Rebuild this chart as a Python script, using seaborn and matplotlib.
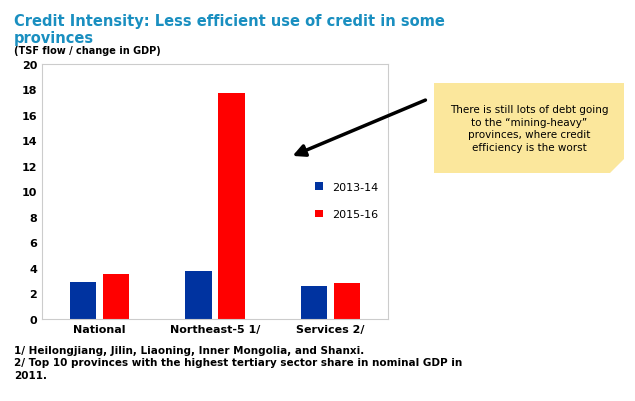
import matplotlib
matplotlib.use("Agg")
import matplotlib.pyplot as plt
import seaborn as sns
import pandas as pd
from matplotlib.patches import Polygon

categories = ["National", "Northeast-5 1/", "Services 2/"]
v_2013_14 = [2.9, 3.8, 2.6]
v_2015_16 = [3.5, 17.7, 2.8]
series = ["2013-14", "2015-16"]
yticks = list(range(0, 21, 2))

df = pd.DataFrame({
    "cat": categories * 2,
    "val": v_2013_14 + v_2015_16,
    "ser": [series[0]] * 3 + [series[1]] * 3,
})

fig = plt.figure(figsize=(6.35, 4.02), dpi=100)
fig.patch.set_facecolor("white")
ax = fig.add_axes([42/635, 1-320/402, 346/635, 255/402])
sns.barplot(data=df, x="cat", y="val", hue="ser", palette=["#0033a0", "#ff0000"],
            width=0.57, gap=0.2, ax=ax, saturation=1)
ax.set_xlim(-0.5, 2.5)
ax.set_ylim(0, 20)
ax.set_yticks(yticks)
ax.set_xlabel(""); ax.set_ylabel("")
ax.tick_params(length=0, labelsize=8)
for lab in ax.get_xticklabels() + ax.get_yticklabels():
    lab.set_fontweight("bold")
for s in ax.spines.values():
    s.set_color("#cccccc")
ax.legend(loc="center left", bbox_to_anchor=(0.76, 0.465), frameon=False, fontsize=8,
          handlelength=0.7, handleheight=0.7, labelspacing=1.6)

fig.text(14/635, 1-14/402, "Credit Intensity: Less efficient use of credit in some\nprovinces",
         color="#1a8fc0", fontsize=10.5, fontweight="bold", va="top", linespacing=1.15)
fig.text(14/635, 1-46/402, "(TSF flow / change in GDP)", fontsize=7, fontweight="bold", va="top")
fig.text(14/635, 1-346/402, "1/ Heilongjiang, Jilin, Liaoning, Inner Mongolia, and Shanxi.\n"
         "2/ Top 10 provinces with the highest tertiary sector share in nominal GDP in\n2011.",
         fontsize=7.5, fontweight="bold", va="top", linespacing=1.3)

# sticky note
note = Polygon([(434/635, 1-84/402), (624/635, 1-84/402), (624/635, 1-160/402),
                (610/635, 1-174/402), (434/635, 1-174/402)], closed=True,
               transform=fig.transFigure, facecolor="#fbe79c", edgecolor="none")
fig.add_artist(note)
fig.text(529/635, 1-129/402, "There is still lots of debt going\nto the \u201cmining-heavy\u201d\nprovinces, where credit\nefficiency is the worst",
         ha="center", va="center", fontsize=7.5, linespacing=1.3)
fig.add_artist(matplotlib.patches.FancyArrowPatch((428/635, 1-100/402), (290/635, 1-158/402),
               transform=fig.transFigure, arrowstyle="-|>", mutation_scale=18, lw=2.5, color="black"))
fig.savefig("out.png", dpi=100)
